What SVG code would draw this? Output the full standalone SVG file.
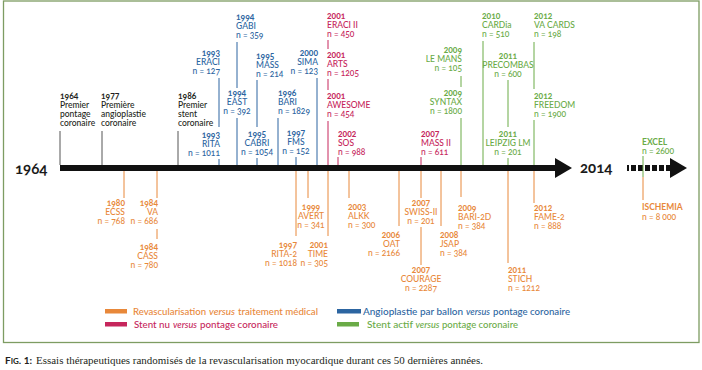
<svg xmlns="http://www.w3.org/2000/svg" width="702" height="370" viewBox="0 0 702 370">
<style>
.t{font-family:Lato,"Liberation Sans",sans-serif;font-size:8.5px;font-weight:500;font-variant-numeric:oldstyle-nums}
.y{font-weight:bold}
.bk{fill:#231f20}.or{fill:#e8883a}.bl{fill:#2c65a1}.pk{fill:#c6265c}.gr{fill:#6aab47}
.e{text-anchor:end}.m{text-anchor:middle}
.c line{stroke-width:1}
.cbk{stroke:#555}.cor{stroke:#e8883a}.cbl{stroke:#2c65a1}.cpk{stroke:#c6265c}.cgr{stroke:#6aab47}
.big{font-family:Lato,"Liberation Sans",sans-serif;font-size:15px;font-weight:bold;fill:#1a1a1a;font-variant-numeric:oldstyle-nums}
.lg{font-family:Lato,"Liberation Sans",sans-serif;font-size:10.3px;font-weight:500}
.i{font-style:italic}
.cap{font-family:"Liberation Serif","DejaVu Serif",serif;font-size:10.5px;fill:#231f20;font-variant-numeric:oldstyle-nums}
.capb{font-family:Lato,"Liberation Sans",sans-serif;font-weight:bold;font-size:10px;fill:#231f20}
</style>
<rect x="0" y="0" width="702" height="370" fill="#fff"/>
<rect x="3.5" y="1" width="695.5" height="341.5" fill="none" stroke="#7d9c62" stroke-width="1.3"/>

<g id="axis">
<rect x="60" y="165" width="496" height="6" fill="#111"/>
<polygon points="555,158 572,168 555,178" fill="#111"/>
<line x1="627" y1="168" x2="670" y2="168" stroke="#111" stroke-width="6" stroke-dasharray="5 2" stroke-dashoffset="3"/>
<polygon points="670,158 687,168 670,178" fill="#111"/>
<text class="big" x="15" y="174">1964</text>
<text class="big" x="580" y="173">2014</text>
</g>

<g class="c" id="connectors">
<line class="cbk" x1="60" y1="131" x2="60" y2="165"/>
<line class="cbk" x1="102" y1="131" x2="102" y2="165"/>
<line class="cbk" x1="178" y1="131" x2="178" y2="165"/>
<line class="cbl" x1="219" y1="78" x2="219" y2="127"/>
<line class="cbl" x1="219" y1="159" x2="219" y2="165"/>
<line class="cbl" x1="237" y1="42" x2="237" y2="88"/>
<line class="cbl" x1="237" y1="118" x2="237" y2="165"/>
<line class="cbl" x1="257" y1="80" x2="257" y2="127"/>
<line class="cbl" x1="257" y1="158" x2="257" y2="165"/>
<line class="cbl" x1="278" y1="118" x2="278" y2="165"/>
<line class="cbl" x1="296" y1="157" x2="296" y2="165"/>
<line class="cbl" x1="317" y1="78" x2="317" y2="165"/>
<line class="cpk" x1="328" y1="40" x2="328" y2="49"/>
<line class="cpk" x1="328" y1="79" x2="328" y2="90"/>
<line class="cpk" x1="328" y1="121" x2="328" y2="165"/>
<line class="cpk" x1="338" y1="157" x2="338" y2="165"/>
<line class="cpk" x1="421" y1="157" x2="421" y2="165"/>
<line class="cgr" x1="461" y1="76" x2="461" y2="87"/>
<line class="cgr" x1="461" y1="118" x2="461" y2="165"/>
<line class="cgr" x1="483" y1="41" x2="483" y2="165"/>
<line class="cgr" x1="508" y1="80" x2="508" y2="127"/>
<line class="cgr" x1="508" y1="158" x2="508" y2="165"/>
<line class="cgr" x1="534" y1="42" x2="534" y2="89"/>
<line class="cgr" x1="534" y1="120" x2="534" y2="165"/>
<line class="cgr" x1="643" y1="156" x2="643" y2="177"/>
<line class="cor" x1="124" y1="171" x2="124" y2="198"/>
<line class="cor" x1="157" y1="171" x2="157" y2="198"/>
<line class="cor" x1="157" y1="229" x2="157" y2="239"/>
<line class="cor" x1="296" y1="171" x2="296" y2="236"/>
<line class="cor" x1="308" y1="171" x2="308" y2="198"/>
<line class="cor" x1="328" y1="171" x2="328" y2="236"/>
<line class="cor" x1="349" y1="171" x2="349" y2="198"/>
<line class="cor" x1="399" y1="171" x2="399" y2="226"/>
<line class="cor" x1="421" y1="171" x2="421" y2="198"/>
<line class="cor" x1="421" y1="227" x2="421" y2="265"/>
<line class="cor" x1="441" y1="171" x2="441" y2="226"/>
<line class="cor" x1="461" y1="171" x2="461" y2="197"/>
<line class="cor" x1="508" y1="171" x2="508" y2="263"/>
<line class="cor" x1="534" y1="171" x2="534" y2="203"/>
<line class="cor" x1="643" y1="177" x2="643" y2="200"/>
</g>

<g id="n1964"><text class="t bk"><tspan class="y" x="60" y="99">1964</tspan><tspan x="60" y="108">Premier</tspan><tspan x="60" y="117">pontage</tspan><tspan x="60" y="126">coronaire</tspan></text></g>
<g id="n1977"><text class="t bk"><tspan class="y" x="101" y="99">1977</tspan><tspan x="101" y="108">Première</tspan><tspan x="101" y="117">angioplastie</tspan><tspan x="101" y="126">coronaire</tspan></text></g>
<g id="n1986"><text class="t bk"><tspan class="y" x="178" y="99">1986</tspan><tspan x="178" y="108">Premier</tspan><tspan x="178" y="117">stent</tspan><tspan x="178" y="126">coronaire</tspan></text></g>

<g id="eraci"><text class="t bl e"><tspan class="y" x="220" y="56">1993</tspan><tspan x="220" y="65">ERACI</tspan><tspan x="220" y="74">n = 127</tspan></text></g>
<g id="rita"><text class="t bl e"><tspan class="y" x="220" y="138">1993</tspan><tspan x="220" y="147">RITA</tspan><tspan x="220" y="156">n = 1011</tspan></text></g>
<g id="gabi"><text class="t bl"><tspan class="y" x="236" y="20">1994</tspan><tspan x="236" y="29">GABI</tspan><tspan x="236" y="38">n = 359</tspan></text></g>
<g id="east"><text class="t bl m"><tspan class="y" x="237" y="96">1994</tspan><tspan x="237" y="105">EAST</tspan><tspan x="237" y="114">n = 392</tspan></text></g>
<g id="mass"><text class="t bl"><tspan class="y" x="256" y="59">1995</tspan><tspan x="256" y="68">MASS</tspan><tspan x="256" y="77">n = 214</tspan></text></g>
<g id="cabri"><text class="t bl m"><tspan class="y" x="257" y="137">1995</tspan><tspan x="257" y="146">CABRI</tspan><tspan x="257" y="155">n = 1054</tspan></text></g>
<g id="bari"><text class="t bl"><tspan class="y" x="278" y="96">1996</tspan><tspan x="278" y="105">BARI</tspan><tspan x="278" y="114">n = 1829</tspan></text></g>
<g id="fms"><text class="t bl m"><tspan class="y" x="296" y="136">1997</tspan><tspan x="296" y="145">FMS</tspan><tspan x="296" y="154">n = 152</tspan></text></g>
<g id="sima"><text class="t bl e"><tspan class="y" x="318" y="56">2000</tspan><tspan x="318" y="65">SIMA</tspan><tspan x="318" y="74">n = 123</tspan></text></g>

<g id="eraci2"><text class="t pk"><tspan class="y" x="327" y="19">2001</tspan><tspan x="327" y="28">ERACI II</tspan><tspan x="327" y="37">n = 450</tspan></text></g>
<g id="arts"><text class="t pk"><tspan class="y" x="327" y="58">2001</tspan><tspan x="327" y="67">ARTS</tspan><tspan x="327" y="76">n = 1205</tspan></text></g>
<g id="awesome"><text class="t pk"><tspan class="y" x="327" y="99">2001</tspan><tspan x="327" y="108">AWESOME</tspan><tspan x="327" y="117">n = 454</tspan></text></g>
<g id="sos"><text class="t pk"><tspan class="y" x="338" y="137">2002</tspan><tspan x="338" y="146">SOS</tspan><tspan x="338" y="155">n = 988</tspan></text></g>
<g id="mass2"><text class="t pk"><tspan class="y" x="421" y="137">2007</tspan><tspan x="421" y="146">MASS II</tspan><tspan x="421" y="155">n = 611</tspan></text></g>

<g id="lemans"><text class="t gr e"><tspan class="y" x="462" y="53">2009</tspan><tspan x="462" y="62">LE MANS</tspan><tspan x="462" y="71">n = 105</tspan></text></g>
<g id="syntax"><text class="t gr e"><tspan class="y" x="462" y="96">2009</tspan><tspan x="462" y="105">SYNTAX</tspan><tspan x="462" y="114">n = 1800</tspan></text></g>
<g id="cardia"><text class="t gr"><tspan class="y" x="482" y="19">2010</tspan><tspan x="482" y="28">CARDia</tspan><tspan x="482" y="37">n = 510</tspan></text></g>
<g id="precombas"><text class="t gr m"><tspan class="y" x="508" y="59">2011</tspan><tspan x="508" y="68">PRECOMBAS</tspan><tspan x="508" y="77">n = 600</tspan></text></g>
<g id="leipzig"><text class="t gr m"><tspan class="y" x="508" y="137">2011</tspan><tspan x="508" y="146">LEIPZIG LM</tspan><tspan x="508" y="155">n = 201</tspan></text></g>
<g id="vacards"><text class="t gr"><tspan class="y" x="534" y="19">2012</tspan><tspan x="534" y="28">VA CARDS</tspan><tspan x="534" y="37">n = 198</tspan></text></g>
<g id="freedom"><text class="t gr"><tspan class="y" x="534" y="99">2012</tspan><tspan x="534" y="108">FREEDOM</tspan><tspan x="534" y="117">n = 1900</tspan></text></g>
<g id="excel"><text class="t gr"><tspan class="y" x="642" y="145">EXCEL</tspan><tspan x="642" y="154">n = 2600</tspan></text></g>

<g id="ecss"><text class="t or e"><tspan class="y" x="125" y="206">1980</tspan><tspan x="125" y="215">ECSS</tspan><tspan x="125" y="224">n = 768</tspan></text></g>
<g id="va"><text class="t or e"><tspan class="y" x="158" y="206">1984</tspan><tspan x="158" y="215">VA</tspan><tspan x="158" y="224">n = 686</tspan></text></g>
<g id="cass"><text class="t or e"><tspan class="y" x="158" y="250">1984</tspan><tspan x="158" y="259">CASS</tspan><tspan x="158" y="268">n = 780</tspan></text></g>
<g id="rita2"><text class="t or e"><tspan class="y" x="297" y="248">1997</tspan><tspan x="297" y="257">RITA-2</tspan><tspan x="297" y="266">n = 1018</tspan></text></g>
<g id="avert"><text class="t or m"><tspan class="y" x="311" y="210">1999</tspan><tspan x="311" y="219">AVERT</tspan><tspan x="311" y="228">n = 341</tspan></text></g>
<g id="time"><text class="t or e"><tspan class="y" x="328" y="248">2001</tspan><tspan x="328" y="257">TIME</tspan><tspan x="328" y="266">n = 305</tspan></text></g>
<g id="alkk"><text class="t or"><tspan class="y" x="348" y="210">2003</tspan><tspan x="348" y="219">ALKK</tspan><tspan x="348" y="228">n = 300</tspan></text></g>
<g id="oat"><text class="t or e"><tspan class="y" x="400" y="238">2006</tspan><tspan x="400" y="247">OAT</tspan><tspan x="400" y="256">n = 2166</tspan></text></g>
<g id="swiss2"><text class="t or m"><tspan class="y" x="421" y="206">2007</tspan><tspan x="421" y="215">SWISS-II</tspan><tspan x="421" y="224">n = 201</tspan></text></g>
<g id="courage"><text class="t or m"><tspan class="y" x="421" y="273">2007</tspan><tspan x="421" y="282">COURAGE</tspan><tspan x="421" y="291">n = 2287</tspan></text></g>
<g id="jsap"><text class="t or"><tspan class="y" x="440" y="238">2008</tspan><tspan x="440" y="247">JSAP</tspan><tspan x="440" y="256">n = 384</tspan></text></g>
<g id="bari2d"><text class="t or"><tspan class="y" x="458" y="211">2009</tspan><tspan x="458" y="220">BARI-2D</tspan><tspan x="458" y="229">n = 384</tspan></text></g>
<g id="stich"><text class="t or"><tspan class="y" x="508" y="273">2011</tspan><tspan x="508" y="282">STICH</tspan><tspan x="508" y="291">n = 1212</tspan></text></g>
<g id="fame2"><text class="t or"><tspan class="y" x="534" y="211">2012</tspan><tspan x="534" y="220">FAME-2</tspan><tspan x="534" y="229">n = 888</tspan></text></g>
<g id="ischemia"><text class="t or"><tspan class="y" x="642" y="210">ISCHEMIA</tspan><tspan x="642" y="220">n = 8 000</tspan></text></g>

<g id="legend">
<rect x="105" y="309" width="22" height="4.5" fill="#e8883a"/>
<text class="lg or" x="133" y="314.5" textLength="73" lengthAdjust="spacingAndGlyphs">Revascularisation</text>
<text class="lg or i" x="209" y="314.5" textLength="26" lengthAdjust="spacingAndGlyphs">versus</text>
<text class="lg or" x="238" y="314.5" textLength="80" lengthAdjust="spacingAndGlyphs">traitement médical</text>
<rect x="105" y="322" width="22" height="4.5" fill="#c6265c"/>
<text class="lg pk" x="134" y="327.5" textLength="36" lengthAdjust="spacingAndGlyphs">Stent nu</text>
<text class="lg pk i" x="173" y="327.5" textLength="24" lengthAdjust="spacingAndGlyphs">versus</text>
<text class="lg pk" x="200" y="327.5" textLength="78" lengthAdjust="spacingAndGlyphs">pontage coronaire</text>
<rect x="337" y="309" width="24" height="4.5" fill="#2c65a1"/>
<text class="lg bl" x="363" y="314.5" textLength="100" lengthAdjust="spacingAndGlyphs">Angioplastie par ballon</text>
<text class="lg bl i" x="466" y="314.5" textLength="24" lengthAdjust="spacingAndGlyphs">versus</text>
<text class="lg bl" x="493" y="314.5" textLength="77" lengthAdjust="spacingAndGlyphs">pontage coronaire</text>
<rect x="337" y="322" width="22" height="4.5" fill="#6aab47"/>
<text class="lg gr" x="367" y="327.5" textLength="46" lengthAdjust="spacingAndGlyphs">Stent actif</text>
<text class="lg gr i" x="415.5" y="327.5" textLength="24" lengthAdjust="spacingAndGlyphs">versus</text>
<text class="lg gr" x="442" y="327.5" textLength="76" lengthAdjust="spacingAndGlyphs">pontage coronaire</text>
</g>

<g id="caption">
<text class="capb" x="5" y="364">F<tspan style="font-size:8px">IG</tspan>. 1:</text>
<text class="cap" x="36" y="364" textLength="447" lengthAdjust="spacingAndGlyphs">Essais thérapeutiques randomisés de la revascularisation myocardique durant ces 50 dernières années.</text>
</g>
</svg>
